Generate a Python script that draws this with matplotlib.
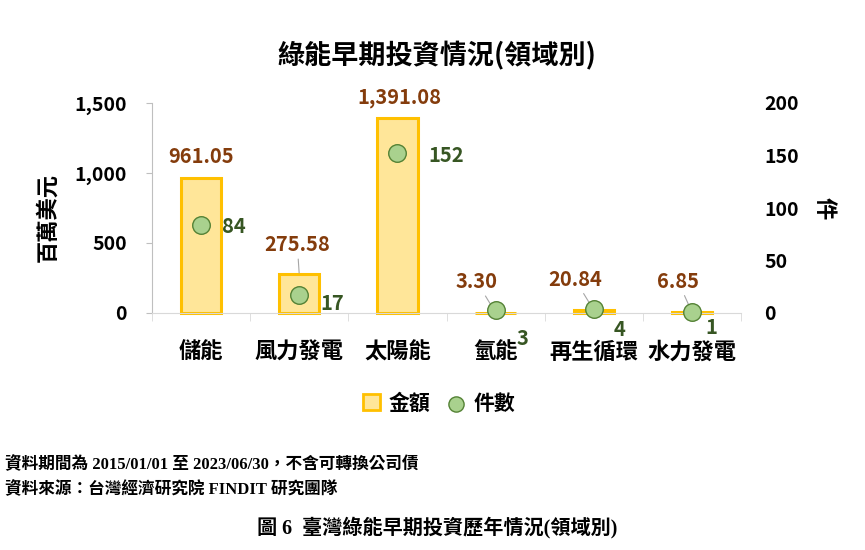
import matplotlib.pyplot as plt
import numpy as np

# Data
categories = ['儲能', '風力發電', '太陽能', '氫能', '再生循環', '水力發電']
amounts = [961.05, 275.58, 1391.08, 3.30, 20.84, 6.85]
counts = [84, 17, 152, 3, 4, 1]
amount_labels = ['961.05', '275.58', '1,391.08', '3.30', '20.84', '6.85']
left_ticks = [0, 500, 1000, 1500]
right_ticks = [0, 50, 100, 150, 200]

# label offsets (pixels) from bar top / point, to label centre
amt_off = [(0, 22), (-2, 30), (2, 21), (-19, 31), (-19, 31), (-14, 31)]
amt_leader = [False, True, False, True, True, True]
cnt_off = [(33, -2), (33, -8), (49, -2), (27, -29), (26, -21), (19, -16)]

CJK = ['Noto Sans CJK TC', 'DejaVu Sans']
plt.rcParams['font.family'] = CJK
plt.rcParams['font.weight'] = 'bold'

fig = plt.figure(figsize=(8.65, 5.5), dpi=100)
ax1 = fig.add_axes([152/865, 1-313/550, 589/865, 210/550])
ax2 = ax1.twinx()

x = np.arange(len(categories))
ax1.bar(x, amounts, width=0.41, color='#FFE699', edgecolor='#FFC000', linewidth=2.2,
        zorder=2, clip_on=False)
ax2.scatter(x, counts, s=160, color='#A9D18E', edgecolors='#548235', linewidths=1,
            zorder=3, clip_on=False)

ax1.set_xlim(-0.5, len(categories)-0.5)
ax1.set_ylim(0, 1500)
ax2.set_ylim(0, 200)

ax1.set_yticks(left_ticks)
ax1.set_yticklabels(['{:,}'.format(v) for v in left_ticks], fontsize=14, fontweight='bold')
ax2.set_yticks(right_ticks)
ax2.set_yticklabels([str(v) for v in right_ticks], fontsize=14, fontweight='bold')
ax1.tick_params(axis='y', length=4, color='#BFBFBF', pad=14)
ax2.tick_params(axis='y', length=0, pad=17)

ax1.set_xticks(x)
ax1.set_xticklabels(categories, fontsize=16, fontweight='bold')
ax1.set_xticks(np.arange(-0.5, len(categories)), minor=True)
ax1.tick_params(axis='x', which='major', length=0, pad=20)
ax1.tick_params(axis='x', which='minor', length=6, color='#D9D9D9', direction='out')

for a in (ax1, ax2):
    for s in ['top', 'right']:
        a.spines[s].set_visible(False)
ax2.spines['left'].set_visible(False)
ax2.spines['bottom'].set_visible(False)
ax1.spines['left'].set_color('#BFBFBF')
ax1.spines['bottom'].set_color('#D9D9D9')

# data labels
for i in range(len(categories)):
    ax1.annotate(amount_labels[i], (x[i], amounts[i]), xytext=amt_off[i],
                 textcoords='offset pixels', ha='center', va='center',
                 fontsize=14.5, fontweight='bold', color='#843C0C',
                 annotation_clip=False,
                 arrowprops=dict(arrowstyle='-', color='#A6A6A6', lw=0.8,
                                 shrinkA=1, shrinkB=1) if amt_leader[i] else None)
    ax2.annotate(str(counts[i]), (x[i], counts[i]), xytext=cnt_off[i],
                 textcoords='offset pixels', ha='center', va='center',
                 fontsize=14.5, fontweight='bold', color='#375623',
                 annotation_clip=False)

fig.text(437/865, 1-56/550, '綠能早期投資情況(領域別)', ha='center', va='center', fontsize=19.5, fontweight='bold')
fig.text(48/865, 1-218/550, '百萬美元', ha='center', va='center', rotation=90, fontsize=16, fontweight='bold')
fig.text(824/865, 1-208/550, '件', ha='center', va='center', rotation=270, fontsize=16, fontweight='bold')

# legend
h1 = plt.Rectangle((0, 0), 1, 1, facecolor='#FFE699', edgecolor='#FFC000', linewidth=2)
h2 = ax2.scatter([], [], s=120, color='#A9D18E', edgecolors='#548235', linewidths=1)
fig.legend([h1, h2], ['金額', '件數'], loc='center', bbox_to_anchor=(439/865, 1-403/550),
           ncol=2, frameon=False, handlelength=0.8, handleheight=0.8,
           handletextpad=0.45, columnspacing=0.8, prop={'weight': 'bold', 'size': 15})

serif = ['Liberation Serif', 'Noto Sans CJK TC']
fig.text(5/865, 1-465/550, '資料期間為 2015/01/01 至 2023/06/30，不含可轉換公司債', ha='left', va='center',
         fontsize=12, fontweight='bold', family=serif)
fig.text(5/865, 1-490/550, '資料來源：台灣經濟研究院 FINDIT 研究團隊', ha='left', va='center',
         fontsize=12, fontweight='bold', family=serif)
fig.text(437/865, 1-528/550, '圖 6  臺灣綠能早期投資歷年情況(領域別)', ha='center', va='center',
         fontsize=14.5, fontweight='bold', family=serif)

fig.savefig('out.png', dpi=100)
